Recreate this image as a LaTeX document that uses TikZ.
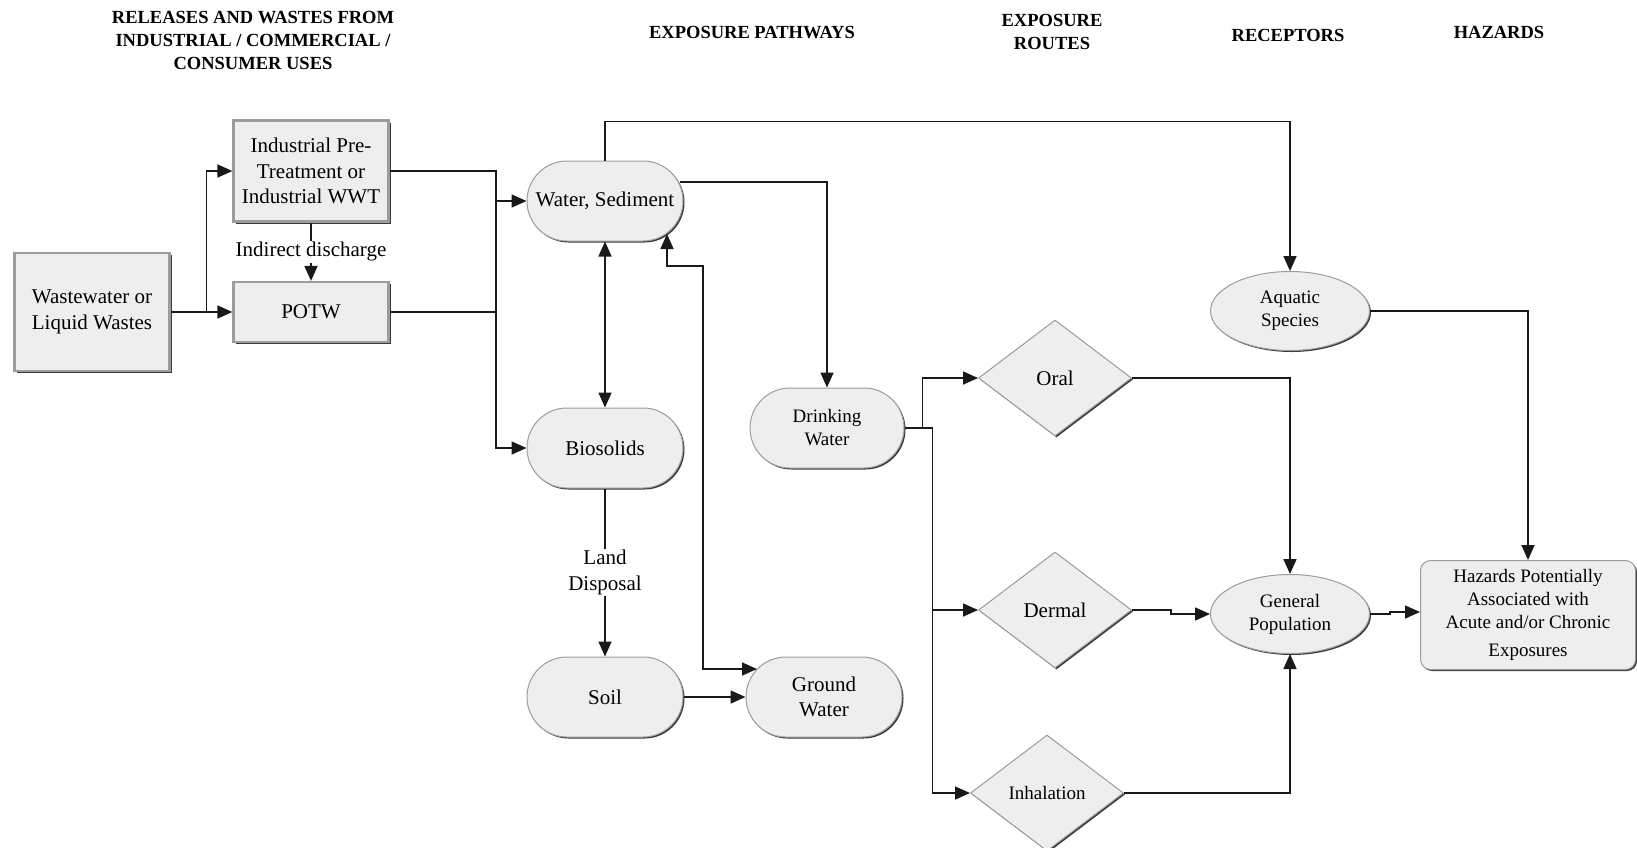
\documentclass[tikz,border=0pt]{standalone}
\usepackage{fontspec}
\setmainfont{Liberation Serif}
\usetikzlibrary{arrows.meta,shapes.geometric,shapes.misc,shadows,calc}
\definecolor{nodefill}{HTML}{EEEEEE}
\definecolor{rimgray}{HTML}{9C9C9C}
\definecolor{rimdark}{HTML}{3A3A3A}
\newcommand{\bigtext}{\fontsize{21}{25.5}\selectfont}
\newcommand{\smalltext}{\fontsize{19}{23}\selectfont}
\newcommand{\headtext}{\fontsize{18.5}{23}\selectfont\bfseries}

\begin{document}
\begin{tikzpicture}[x=1pt,y=-1pt,
  darkrim/.style={drop shadow={shadow xshift=1.5pt, shadow yshift=-1.5pt, opacity=1, fill=rimdark}},
  boxnode/.style={rectangle, fill=nodefill, draw=rimgray, line width=2.2pt, align=center,
    inner sep=0pt, minimum width=155pt, font=\bigtext,
    drop shadow={shadow xshift=2.2pt, shadow yshift=-2.2pt, opacity=1, fill=rimdark}},
  pill/.style={rounded rectangle, fill=nodefill, draw=rimgray, line width=1pt, align=center,
    inner sep=0pt, minimum width=156pt, minimum height=80pt, font=\bigtext, darkrim},
  rhomb/.style={diamond, aspect=1.32, fill=nodefill, draw=rimgray, line width=1pt,
    inner sep=0pt, minimum width=153pt, minimum height=116pt, font=\bigtext, darkrim},
  oval/.style={ellipse, fill=nodefill, draw=rimgray, line width=1pt, inner sep=0pt,
    minimum width=159pt, minimum height=79pt, align=center, font=\smalltext, darkrim},
  hazbox/.style={rectangle, rounded corners=10pt, fill=nodefill, draw=rimgray, line width=1pt,
    minimum width=215pt, minimum height=109pt, align=center, font=\smalltext, darkrim},
  head/.style={font=\headtext, align=center, inner sep=0pt},
  lbl/.style={fill=white, inner sep=1.5pt, font=\bigtext, align=center},
  conn/.style={line width=1.6pt, draw=black!90},
  arr/.style={conn, -{Triangle[length=15pt,width=13pt]}},
  biarr/.style={conn, {Triangle[length=15pt,width=13pt]}-{Triangle[length=15pt,width=13pt]}}
]
\useasboundingbox (0,0) rectangle (1637,847);

% column headings
\node[head] (h1) at (253,40) {RELEASES AND WASTES FROM\\INDUSTRIAL / COMMERCIAL /\\CONSUMER USES};
\node[head] (h2) at (752,33) {EXPOSURE PATHWAYS};
\node[head] (h3) at (1052,32) {EXPOSURE\\ROUTES};
\node[head] (h4) at (1288,35) {RECEPTORS};
\node[head] (h5) at (1499,32) {HAZARDS};

% releases
\node[boxnode, minimum height=118pt] (ww) at (92,312) {Wastewater or\\Liquid Wastes};
\node[boxnode, minimum height=101pt] (ind) at (311,171) {Industrial Pre-\\Treatment or\\Industrial WWT};
\node[boxnode, minimum height=60pt] (potw) at (311,312) {POTW};

% exposure pathways
\node[pill] (water) at (605,201) {Water, Sediment};
\node[pill] (bio) at (605,448) {Biosolids};
\node[pill] (soil) at (605,697) {Soil};
\node[pill] (gw) at (824,697) {Ground\\Water};
\node[pill, minimum width=154pt, font=\smalltext] (dw) at (827,428) {Drinking\\Water};

% exposure routes
\node[rhomb] (oral) at (1055,378) {Oral};
\node[rhomb] (dermal) at (1055,610) {Dermal};
\node[rhomb, font=\smalltext] (inh) at (1047,793) {Inhalation};

% receptors and hazards
\node[oval] (aq) at (1290,311) {Aquatic\\Species};
\node[oval] (gp) at (1290,614) {General\\Population};
\node[hazbox] (haz) at (1528,615) {Hazards Potentially\\Associated with\\Acute and/or Chronic\\[5pt]Exposures};

% releases to treatment
\draw[arr] (ww.east) -- ++(36,0) |- (ind.west);
\draw[arr] (ww.east) -- (ww.east -| potw.west);
\draw[arr] (ind.south) -- node[lbl] {Indirect discharge} (potw.north);

% treatment outputs collected on a vertical bus
\coordinate (bus) at (496,300);
\draw[arr] (ind.east) -- (ind.east -| bus) |- (bio.west);
\draw[conn] (potw.east) -- (potw.east -| bus);
\draw[arr] (water.west -| bus) -- (water.west);

% pathway links
\draw[biarr] (water.south) -- (bio.north);
\draw[arr] (bio.south) -- node[lbl] {Land\\Disposal} (soil.north);
\draw[arr] (soil.east) -- (gw.west);
\coordinate (gwbend) at (703,266);
\draw[biarr] ($(water.center)+(62,33)$) |- (gwbend) |- ($(gw.center)+(-67,-28)$);
\draw[arr] ($(water.center)+(75,-19)$) -| (dw.north);
\draw[arr] (water.north) -- ++(0,-39) -| (aq.north);

% drinking water to routes
\draw[arr] (dw.east) -- ++(18,0) |- (oral.west);
\draw[arr] (dw.east) -- ++(28,0) coordinate (dwsplit) |- (dermal.west);
\draw[arr] (dwsplit) |- (inh.west);

% routes to receptors
\draw[arr] (oral.east) -| (gp.north);
\draw[arr] (dermal.east) -- ++(39,0) |- (gp.west);
\draw[arr] (inh.east) -| (gp.south);

% receptors to hazards
\draw[arr] (aq.east) -| (haz.north);
\draw[arr] (gp.east) -- ++(20,0) |- ($(haz.west)+(0,-3)$);
\end{tikzpicture}
\end{document}
